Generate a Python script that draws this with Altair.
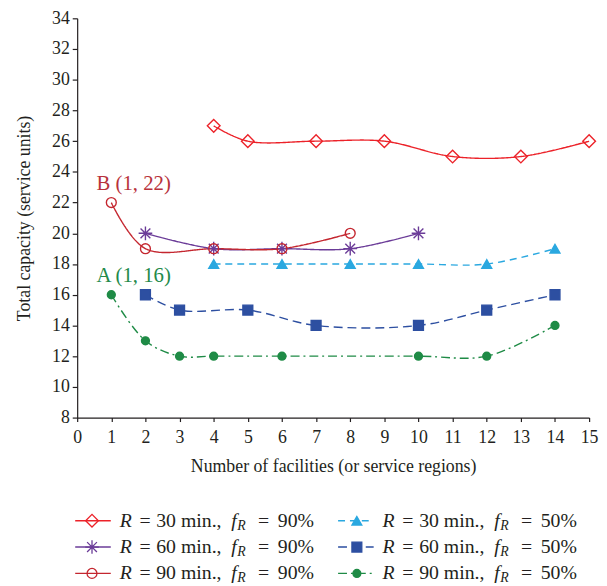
import altair as alt
import pandas as pd

# ---------------- data ----------------
series = ["R30_90", "R60_90", "R90_90", "R30_50", "R60_50", "R90_50"]
minutes = ["30", "60", "90", "30", "60", "90"]
percents = ["90", "90", "90", "50", "50", "50"]

x_r30_90 = [4, 5, 7, 9, 11, 13, 15]
y_r30_90 = [27, 26, 26, 26, 25, 25, 26]
x_r60_90 = [2, 4, 6, 8, 10]
y_r60_90 = [20, 19, 19, 19, 20]
x_r90_90 = [1, 2, 4, 6, 8]
y_r90_90 = [22, 19, 19, 19, 20]
x_r30_50 = [4, 6, 8, 10, 12, 14]
y_r30_50 = [18, 18, 18, 18, 18, 19]
x_r60_50 = [2, 3, 5, 7, 10, 12, 14]
y_r60_50 = [16, 15, 15, 14, 14, 15, 16]
x_r90_50 = [1, 2, 3, 4, 6, 10, 12, 14]
y_r90_50 = [16, 13, 12, 12, 12, 12, 12, 14]

ann_text = ["B (1, 22)", "A (1, 16)"]
ann_x = [1, 1]
ann_y = [22, 16]
ann_color = ["#b8323b", "#238a4a"]

x_ticks = list(range(0, 16))
y_ticks = list(range(8, 35, 2))

# ---------------- styling ----------------
colors = ["#ec2229", "#6b3c98", "#c4262f", "#2aa8e0", "#2d4fa1", "#1f8b46"]
asterisk = "M0,-1L0,1M-1,0L1,0M-0.72,-0.72L0.72,0.72M-0.72,0.72L0.72,-0.72"
shapes = ["diamond", asterisk, "circle", "triangle-up", "square", "circle"]
fills = ["transparent", "transparent", "transparent", colors[3], colors[4], colors[5]]
sizes = [165, 190, 100, 100, 100, 64]
leg_sizes = [70, 80, 90, 50, 90, 40]
dashes = [[1, 0], [1, 0], [1, 0], [7, 5], [9, 5], [9, 4, 2, 4]]
FONT = "Liberation Serif"
INK = "#231f20"

xs = [x_r30_90, x_r60_90, x_r90_90, x_r30_50, x_r60_50, x_r90_50]
ys = [y_r30_90, y_r60_90, y_r90_90, y_r30_50, y_r60_50, y_r90_50]
rows = []
for s, xv, yv in zip(series, xs, ys):
    for a, b in zip(xv, yv):
        rows.append({"series": s, "x": a, "y": b})
df = pd.DataFrame(rows)
ann_df = pd.DataFrame({"text": ann_text, "x": ann_x, "y": ann_y, "c": ann_color})

color_s = alt.Scale(domain=series, range=colors)
shape_s = alt.Scale(domain=series, range=shapes)
fill_s = alt.Scale(domain=series, range=fills)
dash_s = alt.Scale(domain=series, range=dashes)

W, H = 518, 404

x_axis = alt.Axis(values=x_ticks, title="Number of facilities (or service regions)",
                  grid=False, tickSize=4, labelFlush=False, labelOverlap=False,
                  labelPadding=7, titlePadding=12)
y_axis = alt.Axis(values=y_ticks, title="Total capacity (service units)",
                  grid=False, tickSize=5, labelOverlap=False,
                  labelPadding=3, titlePadding=18)
x_sc = alt.Scale(domain=[0, 15], nice=False, zero=False)
y_sc = alt.Scale(domain=[8, 34], nice=False, zero=False)


def xenc():
    return alt.X("x:Q", scale=x_sc, axis=x_axis)


def yenc():
    return alt.Y("y:Q", scale=y_sc, axis=y_axis)


base = alt.Chart(df)
lines = base.mark_line(interpolate="catmull-rom", strokeWidth=1.4).encode(
    x=xenc(), y=yenc(),
    stroke=alt.Stroke("series:N", scale=color_s, legend=None),
    strokeDash=alt.StrokeDash("series:N", scale=dash_s, legend=None),
    detail="series:N",
)
points = base.mark_point(strokeWidth=1.4, opacity=1).encode(
    x=xenc(), y=yenc(),
    shape=alt.Shape("series:N", scale=shape_s, legend=None),
    stroke=alt.Stroke("series:N", scale=color_s, legend=None),
    fill=alt.Fill("series:N", scale=fill_s, legend=None),
    size=alt.Size("series:N", scale=alt.Scale(type="ordinal", domain=series, range=sizes),
                  legend=None),
)
ann = alt.Chart(ann_df).mark_text(align="left", baseline="middle", dx=-15, dy=-19,
                                  font=FONT, fontSize=21).encode(
    x=xenc(), y=yenc(), text="text:N", color=alt.Color("c:N", scale=None))

main = alt.layer(lines, points, ann).properties(width=W, height=H)

# ---------------- legend ----------------
cols = [0, 0, 0, 1, 1, 1]
rws = [0, 1, 2, 0, 1, 2]
COLW = 266
leg_df = pd.DataFrame({
    "series": series,
    "row": rws,
    "x0": [c * COLW - 2 for c in cols],
    "x1": [c * COLW + 34 for c in cols],
    "xm": [c * COLW + 15 + 2 * c for c in cols],
    "xt": [c * COLW + 43 for c in cols],
    "num": minutes,
    "pct": [p + "%" for p in percents],
    "series2": ["L" + s for s in series],
})
LH = 80
lx = alt.Scale(domain=[0, W], nice=False, zero=False)
ly = alt.Scale(domain=[-0.5, 2.5], reverse=True, nice=False, zero=False)
lb = alt.Chart(leg_df)
leg_lines = lb.mark_rule(strokeWidth=1.4).encode(
    x=alt.X("x0:Q", scale=lx, axis=None), x2="x1:Q",
    y=alt.Y("row:Q", scale=ly, axis=None),
    stroke=alt.Stroke("series:N", scale=color_s, legend=None),
    strokeDash=alt.StrokeDash("series:N", scale=dash_s, legend=None),
)
leg_pts = lb.mark_point(strokeWidth=1.3, opacity=1).encode(
    x=alt.X("xm:Q", scale=lx, axis=None),
    y=alt.Y("row:Q", scale=ly, axis=None),
    shape=alt.Shape("series:N", scale=shape_s, legend=None),
    stroke=alt.Stroke("series:N", scale=color_s, legend=None),
    fill=alt.Fill("series:N", scale=fill_s, legend=None),
    size=alt.Size("series2:N", scale=alt.Scale(type="ordinal",
                                              domain=["L" + s for s in series],
                                              range=leg_sizes), legend=None),
)


def piece(text_enc, dx, italic=False, size=20, dy=0):
    kw = dict(align="left", baseline="middle", dx=dx, dy=dy, font=FONT,
              fontSize=size, color=INK)
    if italic:
        kw["fontStyle"] = "italic"
    return lb.mark_text(**kw).encode(
        x=alt.X("xt:Q", scale=lx, axis=None),
        y=alt.Y("row:Q", scale=ly, axis=None),
        text=text_enc,
    )


pieces = [
    piece(alt.value("R"), 0, italic=True),
    piece(alt.value("="), 20),
    piece(alt.Text("num:N"), 37),
    piece(alt.value("min.,"), 62),
    piece(alt.value("f"), 113, italic=True),
    piece(alt.value("R"), 119, italic=True, size=14, dy=5),
    piece(alt.value("="), 140),
    piece(alt.Text("pct:N"), 160),
]

legend = alt.layer(leg_lines, leg_pts, *pieces).properties(width=W, height=LH)

chart = alt.vconcat(main, legend, spacing=32).properties(
    padding={"left": 8, "top": -2, "right": 0, "bottom": 0}
).configure_view(stroke=None).configure_axis(
    labelFont=FONT, titleFont=FONT, labelFontSize=18, titleFontSize=18,
    titleFontWeight="normal", labelColor=INK, titleColor=INK,
    domainColor=INK, tickColor=INK, domainWidth=1.2, tickWidth=1.2,
)

chart.save("out.html", embed_options={"renderer": "svg", "actions": False})
